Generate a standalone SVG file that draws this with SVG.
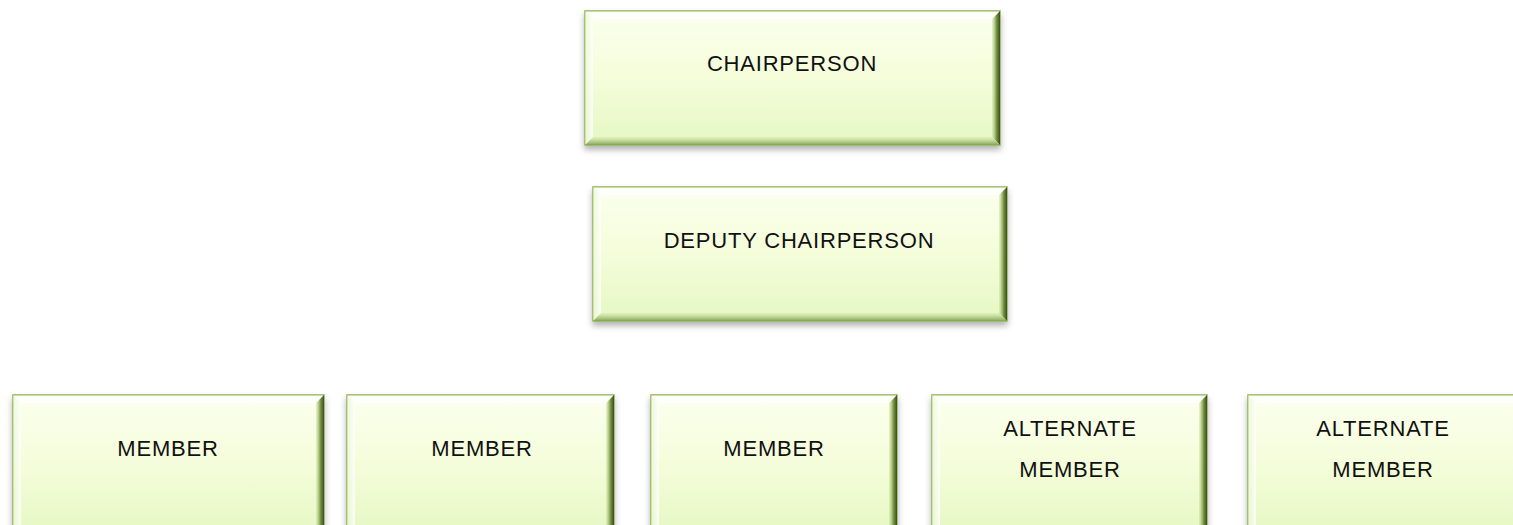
<svg xmlns="http://www.w3.org/2000/svg" width="1513" height="525" viewBox="0 0 1513 525">
<style>
.base{fill:url(#fillG);stroke:#8fb257;stroke-width:1.5;filter:url(#sh)}
.bt{fill:url(#topG)}
.bl{fill:url(#leftG)}
.br{fill:url(#rightG)}
.bb{fill:url(#botG)}
text{font-family:"Liberation Sans",Arial,sans-serif;font-size:22px;fill:#111111;text-anchor:middle;letter-spacing:0.8px}
</style>
<defs>
<linearGradient id="fillG" x1="0" y1="0" x2="0" y2="1">
<stop offset="0" stop-color="#fcffee"/>
<stop offset="0.5" stop-color="#f4fdda"/>
<stop offset="1" stop-color="#e6f7c3"/>
</linearGradient>
<linearGradient id="topG" x1="0" y1="0" x2="0" y2="1">
<stop offset="0" stop-color="#ffffff" stop-opacity="0.3"/>
<stop offset="1" stop-color="#ffffff" stop-opacity="0.95"/>
</linearGradient>
<linearGradient id="leftG" x1="0" y1="0" x2="1" y2="0">
<stop offset="0" stop-color="#e8f5cf" stop-opacity="0.6"/>
<stop offset="1" stop-color="#ffffff" stop-opacity="0.85"/>
</linearGradient>
<linearGradient id="rightG" x1="0" y1="0" x2="1" y2="0">
<stop offset="0" stop-color="#c9e29a" stop-opacity="0.4"/>
<stop offset="0.55" stop-color="#7a9747"/>
<stop offset="1" stop-color="#3a4a1c"/>
</linearGradient>
<linearGradient id="botG" x1="0" y1="0" x2="0" y2="1">
<stop offset="0" stop-color="#d6ebb0" stop-opacity="0.5"/>
<stop offset="1" stop-color="#84a354"/>
</linearGradient>
<filter id="sh" x="-5%" y="-10%" width="110%" height="130%">
<feDropShadow dx="0" dy="4" stdDeviation="3" flood-color="#000" flood-opacity="0.3"/>
</filter>
</defs>
<rect width="1513" height="525" fill="#ffffff"/>
<g id="connectors"/>
<g id="chairperson">
<rect class="base" x="585" y="11" width="415" height="134"/>
<polygon class="bt" points="585,11 1000,11 992,19 593,19"/>
<polygon class="bl" points="585,11 593,19 593,137 585,145"/>
<polygon class="br" points="1000,11 1000,145 992,137 992,19"/>
<polygon class="bb" points="585,145 1000,145 992,137 593,137"/>
<text x="792" y="71">CHAIRPERSON</text>
</g>
<g id="deputy">
<rect class="base" x="593" y="187" width="414" height="134"/>
<polygon class="bt" points="593,187 1007,187 999,195 601,195"/>
<polygon class="bl" points="593,187 601,195 601,313 593,321"/>
<polygon class="br" points="1007,187 1007,321 999,313 999,195"/>
<polygon class="bb" points="593,321 1007,321 999,313 601,313"/>
<text x="799" y="248">DEPUTY CHAIRPERSON</text>
</g>
<g id="member1">
<rect class="base" x="13" y="395" width="311" height="140"/>
<polygon class="bt" points="13,395 324,395 316,403 21,403"/>
<polygon class="bl" points="13,395 21,403 21,527 13,535"/>
<polygon class="br" points="324,395 324,535 316,527 316,403"/>
<text x="168" y="456">MEMBER</text>
</g>
<g id="member2">
<rect class="base" x="347" y="395" width="267" height="140"/>
<polygon class="bt" points="347,395 614,395 606,403 355,403"/>
<polygon class="bl" points="347,395 355,403 355,527 347,535"/>
<polygon class="br" points="614,395 614,535 606,527 606,403"/>
<text x="482" y="456">MEMBER</text>
</g>
<g id="member3">
<rect class="base" x="651" y="395" width="246" height="140"/>
<polygon class="bt" points="651,395 897,395 889,403 659,403"/>
<polygon class="bl" points="651,395 659,403 659,527 651,535"/>
<polygon class="br" points="897,395 897,535 889,527 889,403"/>
<text x="774" y="456">MEMBER</text>
</g>
<g id="alternate1">
<rect class="base" x="932" y="395" width="275" height="140"/>
<polygon class="bt" points="932,395 1207,395 1199,403 940,403"/>
<polygon class="bl" points="932,395 940,403 940,527 932,535"/>
<polygon class="br" points="1207,395 1207,535 1199,527 1199,403"/>
<text x="1070" y="436">ALTERNATE</text>
<text x="1070" y="477">MEMBER</text>
</g>
<g id="alternate2">
<rect class="base" x="1248" y="395" width="275" height="140"/>
<polygon class="bt" points="1248,395 1523,395 1515,403 1256,403"/>
<polygon class="bl" points="1248,395 1256,403 1256,527 1248,535"/>
<polygon class="br" points="1523,395 1523,535 1515,527 1515,403"/>
<text x="1383" y="436">ALTERNATE</text>
<text x="1383" y="477">MEMBER</text>
</g>
</svg>
